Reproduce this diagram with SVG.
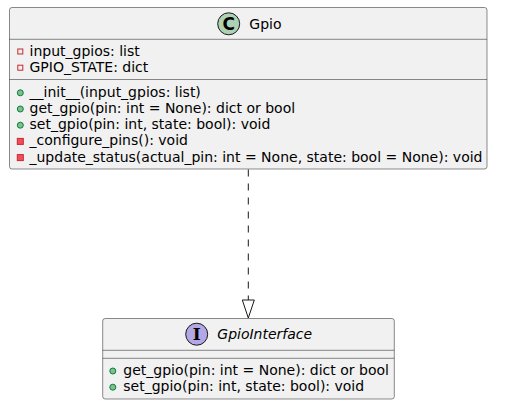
<svg xmlns="http://www.w3.org/2000/svg" width="509" height="411" viewBox="0 0 509 411">
<style>
.box{fill:#F1F1F1;stroke:#181818;stroke-width:0.5}
.sep{stroke:#181818;stroke-width:0.5}
.t{font-family:"DejaVu Sans",sans-serif;font-size:14px;fill:#000000}
.it{font-style:italic}
.priv{fill:none;stroke:#C82930;stroke-width:1}
.privm{fill:#F24D5C;stroke:#C82930;stroke-width:1}
.pub{fill:#84BE84;stroke:#038048;stroke-width:1}
.glyph{font-family:"DejaVu Sans",sans-serif;font-weight:bold;font-size:17px;fill:#000000;text-anchor:middle}
.glyphs{font-family:"DejaVu Serif",serif;font-weight:bold;font-size:17px;fill:#000000;text-anchor:middle}
</style>
<rect width="509" height="411" fill="#FFFFFF"/>
<g id="connectors">
<line x1="248.3" y1="169.5" x2="248.3" y2="300" stroke="#181818" stroke-width="1" stroke-dasharray="7,7"/>
<polygon points="242.3,300 254.3,300 248.3,318" fill="none" stroke="#181818" stroke-width="1"/>
</g>
<g id="Gpio">
<rect class="box" x="9.5" y="7.5" width="477.5" height="161.5" rx="2.5"/>
<circle cx="228.7" cy="23.8" r="11" fill="#ADD1B2" stroke="#181818" stroke-width="1"/>
<text class="glyph" x="228.7" y="29.8">C</text>
<text class="t" x="249.3" y="28.5">Gpio</text>
<line class="sep" x1="9.5" y1="39.3" x2="487" y2="39.3"/>
<rect class="priv" x="17.8" y="49" width="5" height="5"/>
<text class="t" x="29.5" y="55.7">input_gpios: list</text>
<rect class="priv" x="17.8" y="65.2" width="5" height="5"/>
<text class="t" x="29.5" y="71.9">GPIO_STATE: dict</text>
<line class="sep" x1="9.5" y1="79.5" x2="487" y2="79.5"/>
<circle class="pub" cx="20.3" cy="92.8" r="3"/>
<text class="t" x="29.5" y="96.8">__init__(input_gpios: list)</text>
<circle class="pub" cx="20.3" cy="109" r="3"/>
<text class="t" x="29.5" y="113">get_gpio(pin: int = None): dict or bool</text>
<circle class="pub" cx="20.3" cy="125.2" r="3"/>
<text class="t" x="29.5" y="129.2">set_gpio(pin: int, state: bool): void</text>
<rect class="privm" x="17.3" y="138.4" width="6" height="6"/>
<text class="t" x="29.5" y="145.4">_configure_pins(): void</text>
<rect class="privm" x="17.3" y="154.6" width="6" height="6"/>
<text class="t" x="29.5" y="161.6">_update_status(actual_pin: int = None, state: bool = None): void</text>
</g>
<g id="GpioInterface">
<rect class="box" x="102.7" y="318.5" width="291.6" height="80.5" rx="2.5"/>
<circle cx="196.7" cy="334.2" r="11" fill="#B4A7E5" stroke="#181818" stroke-width="1"/>
<text class="glyphs" x="196.7" y="340.3">I</text>
<text class="t it" x="217.3" y="339">GpioInterface</text>
<line class="sep" x1="102.7" y1="350.3" x2="394.3" y2="350.3"/>
<line class="sep" x1="102.7" y1="358.3" x2="394.3" y2="358.3"/>
<circle class="pub" cx="112.8" cy="371" r="3"/>
<text class="t" x="123.3" y="375">get_gpio(pin: int = None): dict or bool</text>
<circle class="pub" cx="112.8" cy="387.2" r="3"/>
<text class="t" x="123.3" y="391.2">set_gpio(pin: int, state: bool): void</text>
</g>
</svg>
